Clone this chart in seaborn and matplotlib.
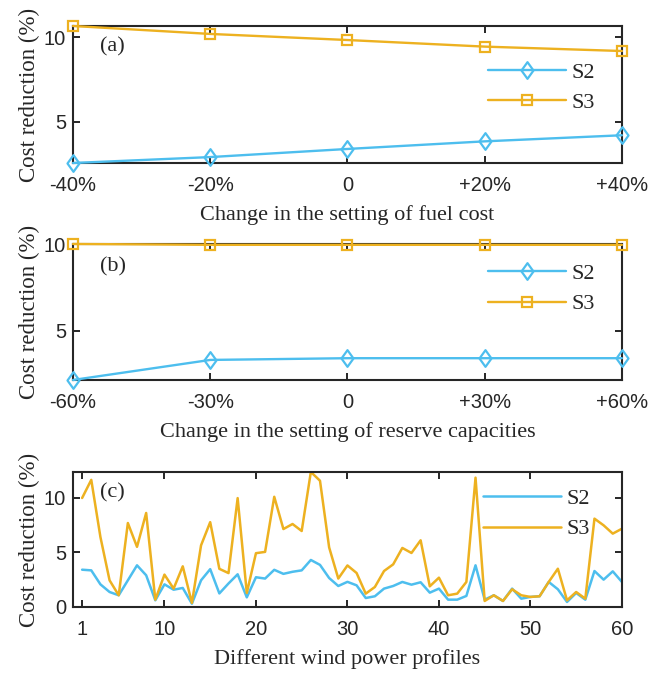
import numpy as np
import pandas as pd
import matplotlib
matplotlib.use("Agg")
import matplotlib.pyplot as plt
from matplotlib.path import Path
import seaborn as sns

# ---- data -------------------------------------------------------------
fuel_change = [-40, -20, 0, 20, 40]
fuel_labels = ["-40%", "-20%", "0", "+20%", "+40%"]
fuel_s2 = [2.57, 2.92, 3.40, 3.85, 4.21]
fuel_s3 = [10.67, 10.20, 9.84, 9.45, 9.19]

reserve_change = [-60, -30, 0, 30, 60]
reserve_labels = ["-60%", "-30%", "0", "+30%", "+60%"]
reserve_s2 = [2.15, 3.31, 3.41, 3.41, 3.41]
reserve_s3 = [10.02, 9.97, 9.97, 9.97, 9.97]

profiles = list(range(1, 61))
profile_ticks = [1, 10, 20, 30, 40, 50, 60]
wind_s2 = [3.41, 3.35, 2.07, 1.37, 1.07, 2.44, 3.81, 2.90, 0.61, 2.07,
           1.58, 1.74, 0.30, 2.44, 3.46, 1.24, 2.15, 2.99, 0.88, 2.72,
           2.60, 3.40, 3.03, 3.22, 3.35, 4.30, 3.85, 2.65, 1.92, 2.30,
           1.98, 0.82, 0.98, 1.68, 1.92, 2.29, 2.04, 2.26, 1.31, 1.68,
           0.67, 0.67, 1.01, 3.81, 0.67, 1.07, 0.55, 1.68, 0.76, 0.92,
           0.98, 2.29, 1.62, 0.46, 1.28, 0.67, 3.29, 2.50, 3.26, 2.29]
wind_s3 = [9.97, 11.63, 6.40, 2.44, 1.07, 7.68, 5.50, 8.60, 0.67, 2.96,
           1.68, 3.72, 0.37, 5.64, 7.76, 3.49, 3.10, 9.96, 1.28, 4.92,
           5.04, 10.08, 7.13, 7.59, 6.95, 12.35, 11.55, 5.45, 2.60, 3.80,
           3.11, 1.22, 1.83, 3.29, 3.90, 5.40, 4.94, 6.10, 1.89, 2.68,
           1.07, 1.22, 2.29, 11.83, 0.55, 1.07, 0.55, 1.62, 1.07, 0.92,
           0.98, 2.29, 3.50, 0.61, 1.37, 0.76, 8.08, 7.47, 6.71, 7.16]

# ---- style ------------------------------------------------------------
sns.set_theme(style="white")
plt.rcParams["font.family"] = ["Liberation Sans", "DejaVu Sans"]

C_S2 = "#4DBEEE"
C_S3 = "#EDB120"
INK = "#262626"
SERIF = ["Liberation Serif", "DejaVu Serif"]

# slightly tall diamond, like MATLAB's
diamond = Path([(0, 1), (0.72, 0), (0, -1), (-0.72, 0), (0, 1)],
               [Path.MOVETO, Path.LINETO, Path.LINETO, Path.LINETO, Path.CLOSEPOLY])

LEGEND_KW = dict(loc="center left", frameon=False,
                 prop={"family": SERIF, "size": 16}, handlelength=3.5,
                 handletextpad=0.25, labelspacing=0.45, borderpad=0,
                 borderaxespad=0)

fig = plt.figure(figsize=(6.67, 6.73), dpi=100)
L, W = 0.1094, 0.823
ax_a = fig.add_axes([L, 0.7578, W, 0.2036])
ax_b = fig.add_axes([L, 0.4354, W, 0.2021])
ax_c = fig.add_axes([L, 0.0981, W, 0.2006])


def style_axes(ax):
    for sp in ax.spines.values():
        sp.set_visible(True)
        sp.set_color(INK)
        sp.set_linewidth(1.5)
    ax.tick_params(direction="in", length=4.8, width=1.4, color=INK,
                   top=True, right=True, bottom=True, left=True,
                   labelsize=14.5, labelcolor=INK)
    ax.tick_params(axis="x", pad=9.5)
    ax.tick_params(axis="y", pad=5)
    ax.set_ylabel("Cost reduction (%)", family=SERIF, fontsize=16.5,
                  color=INK, labelpad=3)
    ax.grid(False)


def marked_panel(ax, x, s2, s3, labels, xlabel, tag, leg_xy):
    sns.lineplot(x=x, y=s2, ax=ax, color=C_S2, lw=1.7, marker=diamond,
                 markersize=12, markerfacecolor="none", markeredgecolor=C_S2,
                 markeredgewidth=1.6, label="S2", clip_on=False, zorder=3)
    sns.lineplot(x=x, y=s3, ax=ax, color=C_S3, lw=1.7, marker="s",
                 markersize=6.8, markerfacecolor="none", markeredgecolor=C_S3,
                 markeredgewidth=1.6, label="S3", clip_on=False, zorder=3)
    ax.set_xlim(min(x), max(x))
    ax.set_ylim(min(s2 + s3), max(s2 + s3))
    ax.set_xticks(x)
    ax.set_xticklabels(labels)
    ax.set_yticks([5, 10])
    ax.set_xlabel(xlabel, family=SERIF, fontsize=16, color=INK, labelpad=7)
    ax.text(0.049, tag[1], tag[0], transform=ax.transAxes, family=SERIF,
            fontsize=16, va="center", ha="left", color=INK)
    ax.legend(bbox_to_anchor=leg_xy, **LEGEND_KW)
    style_axes(ax)


marked_panel(ax_a, fuel_change, fuel_s2, fuel_s3, fuel_labels,
             "Change in the setting of fuel cost", ("(a)", 0.847), (0.756, 0.55))
marked_panel(ax_b, reserve_change, reserve_s2, reserve_s3, reserve_labels,
             "Change in the setting of reserve capacities", ("(b)", 0.83), (0.756, 0.67))

# panel (c): sixty wind profiles
wind = pd.DataFrame({"profile": profiles, "S2": wind_s2, "S3": wind_s3})
sns.lineplot(data=wind, x="profile", y="S2", ax=ax_c, color=C_S2, lw=1.8, label="S2")
sns.lineplot(data=wind, x="profile", y="S3", ax=ax_c, color=C_S3, lw=1.8, label="S3")
ax_c.set_xlim(0, 60)
ax_c.set_ylim(0, max(wind_s3))
ax_c.set_xticks(profile_ticks)
ax_c.set_yticks([0, 5, 10])
ax_c.set_xlabel("Different wind power profiles", family=SERIF, fontsize=16,
                color=INK, labelpad=7)
ax_c.text(0.049, 0.845, "(c)", transform=ax_c.transAxes, family=SERIF,
          fontsize=16, va="center", ha="left", color=INK)
ax_c.legend(bbox_to_anchor=(0.747, 0.69), **LEGEND_KW)
style_axes(ax_c)

fig.savefig("out.png", dpi=100)
